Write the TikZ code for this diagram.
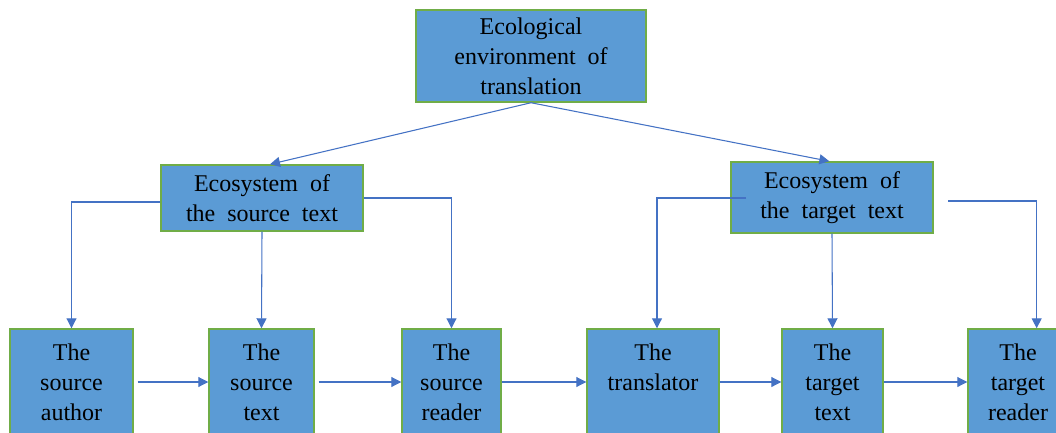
\documentclass[tikz,border=0pt]{standalone}
\usepackage{fontspec}
\setmainfont[WordSpace=2]{Liberation Serif}
\usetikzlibrary{arrows.meta}
\definecolor{boxfill}{HTML}{5B9BD5}
\definecolor{boxline}{HTML}{70AD47}
\definecolor{arrcol}{HTML}{4472C4}
\begin{document}
\begin{tikzpicture}[x=0.75pt,y=-0.75pt,
  box/.style={draw=boxline, fill=boxfill, line width=1.1pt, align=center, inner sep=0pt,
    font=\rmfamily\fontsize{18}{22.5}\selectfont, text=black},
  bot/.style={box, minimum height={106*0.75pt}},
  conn/.style={draw=arrcol, line width=0.8pt, -{Triangle[length=7.5pt,width=7.5pt]}}]
\useasboundingbox (0,0) rectangle (1056,432);
\clip (0,0) rectangle (1056,432);
\node[box, minimum width={230*0.75pt}, minimum height={92*0.75pt}] (top) at (531,56) {Ecological\\environment of\\translation};
\node[box, minimum width={202*0.75pt}, minimum height={66*0.75pt}] (srceco) at (262,198) {Ecosystem of\\the source text};
\node[box, minimum width={202*0.75pt}, minimum height={71*0.75pt}] (tgteco) at (832,197.5) {Ecosystem of\\the target text};
\node[bot, minimum width={123*0.75pt}] (author) at (71.5,382) {The\\source\\author};
\node[bot, minimum width={105*0.75pt}] (srctext) at (261.5,382) {The\\source\\text};
\node[bot, minimum width={99*0.75pt}] (srcreader) at (451.5,382) {The\\source\\reader};
\node[bot, minimum width={132*0.75pt}] (translator) at (653,382) {The\\translator\\\phantom{x}};
\node[bot, minimum width={101*0.75pt}] (tgttext) at (832.5,382) {The\\target\\text};
\node[bot, minimum width={100*0.75pt}] (tgtreader) at (1018,382) {The\\target\\reader};
\draw[conn] (top.south) -- ([xshift=6pt]srceco.north);
\draw[conn] (top.south) -- ([xshift=-2pt]tgteco.north);
\draw[conn] ([yshift=-3pt]srceco.west) -| (author.north);
\draw[conn] (srceco.east) -| (srcreader.north);
\draw[conn] (srceco.south) -- (srctext.north);
\coordinate (tgtL) at (746,198);
\coordinate (tgtR) at (948,201);
\draw[conn] (tgtL) -| ([xshift=3pt]translator.north);
\draw[conn] (tgtR) -| ([xshift=14pt]tgtreader.north);
\draw[conn] (tgteco.south) -- (tgttext.north);
\draw[conn] ([xshift=3pt]author.east) -- (srctext.west);
\draw[conn] ([xshift=3pt]srctext.east) -- (srcreader.west);
\draw[conn] (srcreader.east) -- (translator.west);
\draw[conn] (translator.east) -- (tgttext.west);
\draw[conn] (tgttext.east) -- (tgtreader.west);
\end{tikzpicture}
\end{document}
